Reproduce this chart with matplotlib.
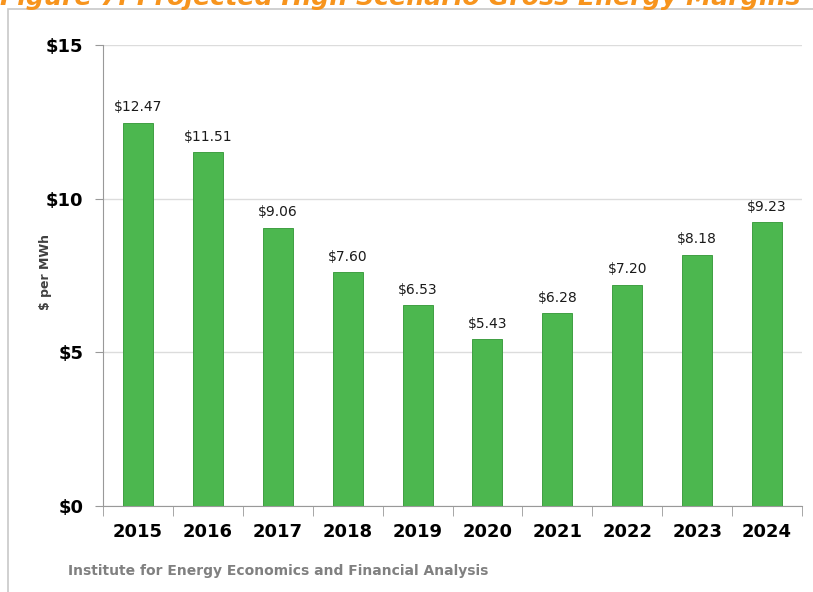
import matplotlib.pyplot as plt
from matplotlib.patches import Rectangle
import numpy as np

years = ["2015", "2016", "2017", "2018", "2019", "2020", "2021", "2022", "2023", "2024"]
margins = [12.47, 11.51, 9.06, 7.60, 6.53, 5.43, 6.28, 7.20, 8.18, 9.23]
y_ticks = [0, 5, 10, 15]
y_tick_labels = ["$0", "$5", "$10", "$15"]

title = "Figure 7: Projected High Scenario Gross Energy Margins"
source = "Institute for Energy Economics and Financial Analysis"

fig = plt.figure(figsize=(8.13, 5.92), dpi=100)
ax = fig.add_axes([0.1267, 0.1453, 0.8598, 0.7787])

# outer frame (runs off the right/bottom edge)
fig.add_artist(Rectangle((8 / 813, -0.05), 1.0, 1 - 9 / 592 + 0.05,
                         transform=fig.transFigure, fill=False,
                         edgecolor="#c8c8c8", linewidth=1.2))

x = np.arange(len(years))
ax.bar(x, margins, width=0.43, color="#4cb74f", edgecolor="#3f9f42",
       linewidth=0.7, zorder=3)

for xi, v in zip(x, margins):
    ax.annotate("${:.2f}".format(v), (xi, v), xytext=(0, 6),
                textcoords="offset points", ha="center", va="bottom",
                fontsize=10, color="#1a1a1a")

ax.set_xlim(-0.5, len(years) - 0.5)
ax.set_ylim(0, 15)
ax.set_yticks(y_ticks)
ax.set_yticklabels(y_tick_labels, fontsize=13, fontweight="bold")
ax.set_xticks(x)
ax.set_xticklabels(years, fontsize=13, fontweight="bold")
ax.set_xticks(np.arange(-0.5, len(years)), minor=True)
ax.tick_params(axis="x", which="major", length=0, pad=12)
ax.tick_params(axis="x", which="minor", length=7, color="#999999", direction="out")
ax.tick_params(axis="y", length=6, color="#999999", pad=8)

ax.grid(axis="y", color="#dcdcdc", linewidth=1, zorder=0)
for s in ["top", "right"]:
    ax.spines[s].set_visible(False)
ax.spines["left"].set_color("#999999")
ax.spines["bottom"].set_color("#999999")

# y axis title sits between the tick labels
fig.text(45 / 813, 1 - 272 / 592, "$ per MWh", rotation=90, fontsize=9,
         fontweight="bold", color="#404040", ha="center", va="center")

# title is clipped by the top edge, as in the original
fig.text(0.0, 1 - 5 / 592, title, fontsize=18.2, fontweight="bold",
         fontstyle="italic", color="#f7941d", va="baseline", ha="left")
fig.text(68 / 813, 1 - 571 / 592, source, fontsize=10, fontweight="bold",
         color="#808080", va="center", ha="left")

fig.savefig("out.png", dpi=100)
